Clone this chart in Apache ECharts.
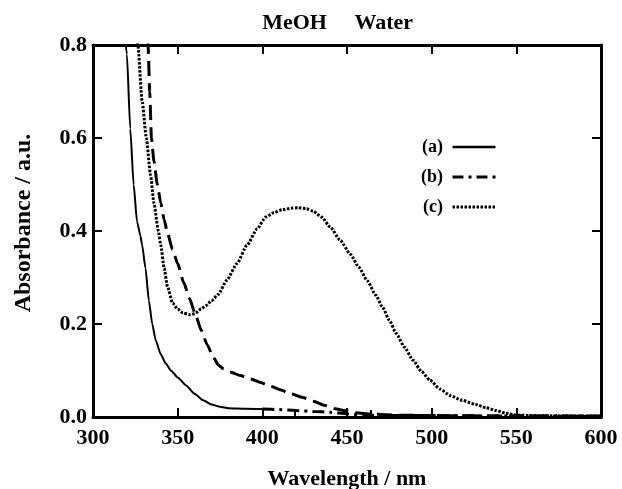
<!DOCTYPE html>
<html>
<head>
<meta charset="utf-8">
<script src="https://cdn.jsdelivr.net/npm/echarts@6/dist/echarts.min.js"></script>
<style>html,body{margin:0;padding:0;background:#fff}#c{width:622px;height:489px}</style>
</head>
<body>
<div id="c"></div>
<script>
// ---- data ----
var aWl  = [318, 320, 322, 324, 326, 328, 329, 331, 333, 335, 337, 340, 343, 346, 350, 355, 360, 365, 370, 375, 380, 390, 400];
var aAbs = [0.86, 0.78, 0.62, 0.50, 0.42, 0.39, 0.37, 0.32, 0.25, 0.20, 0.165, 0.135, 0.115, 0.10, 0.085, 0.068, 0.050, 0.036, 0.027, 0.022, 0.019, 0.018, 0.017];

var tailWl  = [400, 410, 420, 430, 440, 450, 460, 480, 500, 550, 600];
var tailAbs = [0.017, 0.016, 0.014, 0.012, 0.010, 0.007, 0.004, 0.003, 0.003, 0.002, 0.002];

var bWl  = [331.5, 332.5, 333.5, 334.5, 336, 338, 340, 342, 344, 347, 350, 353.5, 357, 360.5, 364, 367.5, 371, 374, 377, 381, 387, 393, 399, 405, 411, 416, 424, 430, 437, 443, 448, 455, 465, 480, 500, 550, 600];
var bAbs = [0.86, 0.80, 0.70, 0.60, 0.55, 0.50, 0.46, 0.425, 0.395, 0.36, 0.33, 0.29, 0.255, 0.22, 0.186, 0.155, 0.129, 0.112, 0.104, 0.097, 0.089, 0.082, 0.074, 0.066, 0.058, 0.051, 0.042, 0.034, 0.025, 0.018, 0.014, 0.009, 0.006, 0.004, 0.003, 0.002, 0.001];

var cWl  = [325, 326.5, 329, 331.5, 334, 336, 338.6, 340, 342, 344, 347, 350, 353, 357, 360, 364, 367, 370, 374, 379, 385, 391, 397, 402, 407, 412, 417, 421, 426, 430, 435, 440, 446, 452, 457, 462, 467, 471, 475, 479, 484, 489, 494, 499, 505, 511, 518, 526, 532, 538, 544, 550, 560, 580, 600];
var cAbs = [0.84, 0.80, 0.68, 0.60, 0.52, 0.46, 0.40, 0.37, 0.32, 0.28, 0.245, 0.232, 0.224, 0.220, 0.222, 0.233, 0.240, 0.250, 0.264, 0.294, 0.330, 0.370, 0.405, 0.430, 0.440, 0.446, 0.449, 0.450, 0.448, 0.443, 0.430, 0.409, 0.380, 0.350, 0.322, 0.293, 0.262, 0.236, 0.208, 0.180, 0.150, 0.122, 0.098, 0.079, 0.060, 0.046, 0.036, 0.027, 0.020, 0.014, 0.008, 0.004, 0.003, 0.002, 0.002];

var xTicks = [300, 350, 400, 450, 500, 550, 600];
var yTicks = [0.0, 0.2, 0.4, 0.6, 0.8];
var solventPos = [419, 464];
var solventNames = ['MeOH', 'Water'];
var seriesNames = ['(a)', '(b)', '(c)'];

function pairs(xs, ys) { return xs.map(function (x, i) { return [x, ys[i]]; }); }

var FONT = '"Liberation Serif", "Times New Roman", serif';
var axisLineStyle = { color: '#000', width: 3 };
var tickStyle = { color: '#000', width: 2 };
var labelStyle = { color: '#000', fontFamily: FONT, fontWeight: 'bold', fontSize: 22 };

var chart = echarts.init(document.getElementById('c'), null, { renderer: 'canvas' });
chart.setOption({
  animation: false,
  backgroundColor: '#fff',
  grid: { left: 93, right: 21, top: 45, bottom: 72, containLabel: false, outerBoundsMode: 'none' },
  xAxis: [
    {
      type: 'value', position: 'bottom', min: xTicks[0], max: xTicks[xTicks.length - 1], interval: 50,
      axisLine: { show: true, onZero: false, lineStyle: axisLineStyle },
      axisTick: { show: true, inside: true, length: 9, lineStyle: tickStyle },
      axisLabel: Object.assign({ margin: 10 }, labelStyle),
      splitLine: { show: false },
      name: 'Wavelength / nm', nameLocation: 'middle', nameGap: 51,
      nameTextStyle: { color: '#000', fontFamily: FONT, fontWeight: 'bold', fontSize: 22 }
    },
    {
      type: 'value', position: 'top', min: xTicks[0], max: xTicks[xTicks.length - 1], interval: 50,
      axisLine: { show: true, onZero: false, lineStyle: axisLineStyle },
      axisTick: { show: true, inside: true, length: 9, lineStyle: tickStyle },
      axisLabel: { show: false }, splitLine: { show: false }
    },
    {
      type: 'value', position: 'top', min: xTicks[0], max: xTicks[xTicks.length - 1],
      axisLine: { show: false },
      axisTick: { show: true, inside: false, length: 7, lineStyle: tickStyle, customValues: solventPos },
      axisLabel: Object.assign({
        margin: 11, customValues: solventPos,
        formatter: function (v) {
          var i = solventPos.indexOf(v);
          return i === 1 ? '{w|' + solventNames[i] + '}' : solventNames[i];
        },
        rich: { w: { color: '#000', fontFamily: FONT, fontWeight: 'bold', fontSize: 22, padding: [0, 0, 0, 26] } }
      }, labelStyle),
      splitLine: { show: false }
    }
  ],
  yAxis: [
    {
      type: 'value', position: 'left', min: 0, max: 0.8, interval: 0.2,
      axisLine: { show: true, onZero: false, lineStyle: axisLineStyle },
      axisTick: { show: true, inside: true, length: 9, lineStyle: tickStyle },
      axisLabel: Object.assign({ margin: 6, formatter: function (v) { return v.toFixed(1); } }, labelStyle),
      splitLine: { show: false },
      name: 'Absorbance / a.u.', nameLocation: 'middle', nameGap: 57,
      nameTextStyle: { color: '#000', fontFamily: FONT, fontWeight: 'bold', fontSize: 24, padding: [0, 0, 0, 16] }
    },
    {
      type: 'value', position: 'right', min: 0, max: 0.8, interval: 0.2,
      axisLine: { show: true, onZero: false, lineStyle: axisLineStyle },
      axisTick: { show: true, inside: true, length: 9, lineStyle: tickStyle },
      axisLabel: { show: false }, splitLine: { show: false }
    }
  ],
  legend: {
    orient: 'vertical', left: 416, top: 133, align: 'right',
    itemWidth: 43, itemHeight: 14, itemGap: 12,
    formatter: function (n) { return n + ' '; },
    textStyle: { color: '#000', fontFamily: FONT, fontWeight: 'bold', fontSize: 18 },
    itemStyle: { opacity: 0 },
    data: [
      { name: seriesNames[0], lineStyle: { width: 2.5 } },
      { name: seriesNames[1], lineStyle: { type: [11, 5, 3, 5], width: 3 } },
      { name: seriesNames[2], lineStyle: { type: [2.5, 1.5], width: 3 } }
    ]
  },
  series: [
    {
      name: seriesNames[0], type: 'line', xAxisIndex: 0, yAxisIndex: 0,
      data: pairs(aWl, aAbs), symbol: 'none', showSymbol: false, smooth: 0.2, smoothMonotone: 'x',
      lineStyle: { color: '#000', width: 2, type: 'solid' }, itemStyle: { color: '#000' }
    },
    {
      name: 'tail', type: 'line', xAxisIndex: 0, yAxisIndex: 0,
      data: pairs(tailWl, tailAbs), symbol: 'none', showSymbol: false, smooth: 0.2,
      lineStyle: { color: '#000', width: 3, type: [12, 5, 3, 5] }, itemStyle: { color: '#000' }
    },
    {
      name: seriesNames[1], type: 'line', xAxisIndex: 0, yAxisIndex: 0,
      data: pairs(bWl, bAbs), symbol: 'none', showSymbol: false, smooth: 0.2, smoothMonotone: 'x',
      lineStyle: { color: '#000', width: 3, type: [15, 7] }, itemStyle: { color: '#000' }
    },
    {
      name: seriesNames[2], type: 'line', xAxisIndex: 0, yAxisIndex: 0,
      data: pairs(cWl, cAbs), symbol: 'none', showSymbol: false, smooth: 0.2, smoothMonotone: 'x',
      lineStyle: { color: '#000', width: 3, type: [2.5, 1.5] }, itemStyle: { color: '#000' }
    }
  ]
});
</script>
</body>
</html>
